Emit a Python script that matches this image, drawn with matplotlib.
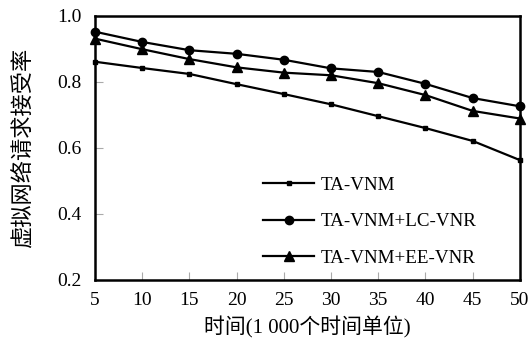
import matplotlib
matplotlib.use('Agg')
import matplotlib.pyplot as plt

plt.rcParams['font.family'] = ['Liberation Serif', 'Noto Sans CJK SC']

# 数据
tempo = [5, 10, 15, 20, 25, 30, 35, 40, 45, 50]
ta_vnm = [0.861, 0.842, 0.824, 0.793, 0.763, 0.732, 0.696, 0.660, 0.621, 0.563]
ta_lc = [0.952, 0.921, 0.896, 0.885, 0.867, 0.841, 0.830, 0.794, 0.751, 0.726]
ta_ee = [0.931, 0.899, 0.869, 0.844, 0.828, 0.820, 0.796, 0.760, 0.712, 0.689]
nomes = ['TA-VNM', 'TA-VNM+LC-VNR', 'TA-VNM+EE-VNR']
yticks = [0.2, 0.4, 0.6, 0.8, 1.0]

fig = plt.figure(figsize=(5.31, 3.38), dpi=100)
ax = fig.add_axes([0.179, 0.172, 0.800, 0.781])

ax.plot(tempo, ta_vnm, color='black', lw=1.6, marker='s', ms=3, label=nomes[0], clip_on=False)
ax.plot(tempo, ta_lc, color='black', lw=1.6, marker='o', ms=6, label=nomes[1], clip_on=False)
ax.plot(tempo, ta_ee, color='black', lw=1.6, marker='^', ms=7, label=nomes[2], clip_on=False)

ax.set_xlim(5, 50)
ax.set_ylim(0.2, 1.0)
ax.set_xticks(tempo)
ax.set_yticks(yticks)
ax.set_yticklabels(['%.1f' % v for v in yticks])
ax.tick_params(direction='in', length=6, color='#aaaaaa', labelsize=14)
ax.tick_params(axis='x', pad=9)
ax.tick_params(axis='y', pad=10)

for s in ax.spines.values():
    s.set_linewidth(1.8)

ax.set_xlabel('时间(1 000个时间单位)', fontsize=15, labelpad=5)
ax.set_ylabel('虚拟网络请求接受率', fontsize=16, labelpad=16)

leg = ax.legend(loc='center left', bbox_to_anchor=(0.355, 0.22), frameon=False,
                fontsize=13.7, handlelength=2.7, labelspacing=1.0, handletextpad=0.35)

fig.savefig('out.png', dpi=100)
